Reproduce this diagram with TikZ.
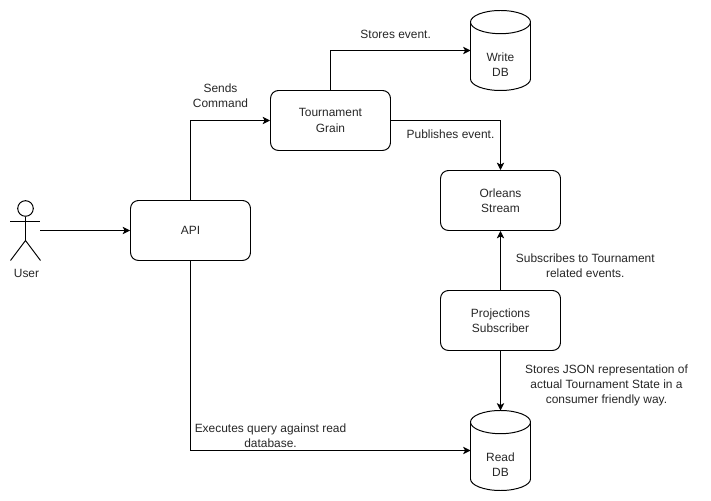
\documentclass[tikz,border=0pt]{standalone}
\usepackage{fontspec}
\setmainfont{Liberation Sans}
\usetikzlibrary{arrows.meta}
\tikzset{
    boxnode/.style={draw, rounded corners=0.2cm, minimum width=3cm, minimum height=1.5cm, align=center, inner sep=0pt},
    dbnode/.style={minimum width=1.5cm, minimum height=2cm, inner sep=0pt, outer sep=0pt,
        append after command={
            ([yshift=-0.29cm]\tikzlastnode.north west) arc[x radius=0.75cm, y radius=0.29cm, start angle=180, end angle=0]
            -- ([yshift=0.29cm]\tikzlastnode.south east) arc[x radius=0.75cm, y radius=0.29cm, start angle=0, end angle=-180]
            -- cycle
            ([yshift=-0.29cm]\tikzlastnode.north west) arc[x radius=0.75cm, y radius=0.29cm, start angle=180, end angle=360]
        }},
    txtnode/.style={align=center, inner sep=0pt},
    conn/.style={line width=0.7pt, -{Stealth[length=5.2pt,width=5.2pt,inset=1.3pt]}},
    every node/.append style={font=\fontsize{8.5}{10.9}\selectfont, line width=0.7pt, text=black!85}
}
\begin{document}
\begin{tikzpicture}
    \useasboundingbox (-0.0125,0.0125) rectangle (17.7625,12.5375);

    \node[boxnode] (api) at (4.75,6.775) {API};
    \node[boxnode] (grain) at (8.25,9.525) {Tournament\\Grain};
    \node[boxnode] (stream) at (12.5,7.525) {Orleans\\Stream};
    \node[boxnode] (projections) at (12.5,4.525) {Projections\\Subscriber};
    \path[draw, line width=0.7pt] node[dbnode] (writedb) at (12.5,11.275) {};
    \node[txtnode] (writelbl) at (12.5,10.925) {Write\\DB};
    \path[draw, line width=0.7pt] node[dbnode] (readdb) at (12.5,1.275) {};
    \node[txtnode] (readlbl) at (12.5,0.925) {Read\\DB};

    % stick figure
    \node[draw, circle, minimum size=0.39cm, inner sep=0pt] (head) at (0.625,7.325) {};
    \coordinate (hip) at (0.625,6.525);
    \draw[line width=0.7pt] (head.south)--(hip);
    \draw[line width=0.7pt] (0.25,7.0)--(1,7.0);
    \draw[line width=0.7pt] (0.25,6.025)--(hip)--(1,6.025);
    \node[txtnode] (user) at (0.65,5.7) {User};
    \coordinate (userout) at (1,6.775);

    \draw[conn] (userout)--(api.west);
    \draw[conn] (api.north) |- (grain.west);
    \draw[conn] (api.south) |- (readdb.west);
    \draw[conn] (grain.north) |- (writedb.west);
    \draw[conn] (grain.east) -| (stream.north);
    \draw[conn] (projections.north)--(stream.south);
    \draw[conn] (projections.south)--(readdb.north);

    \node[txtnode] (sends) at (5.5,10.15) {Sends\\Command};
    \node[txtnode] (stores) at (9.88,11.67) {Stores event.};
    \node[txtnode] (publishes) at (11.25,9.18) {Publishes event.};
    \node[txtnode] (subscribes) at (14.62,5.9) {Subscribes to Tournament\\related events.};
    \node[txtnode] (json) at (15.15,2.9) {Stores JSON representation of\\actual Tournament State in a\\consumer friendly way.};
    \node[txtnode] (query) at (6.75,1.65) {Executes query against read\\database.};
\end{tikzpicture}
\end{document}
